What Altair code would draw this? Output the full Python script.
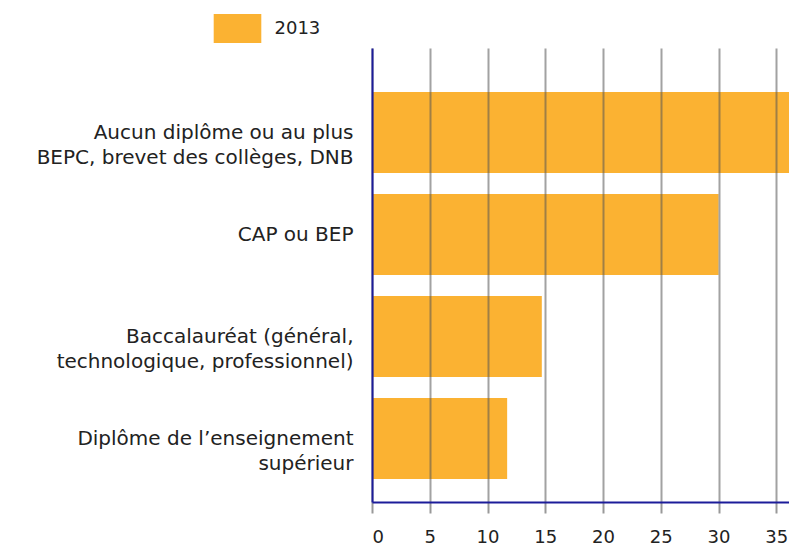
import altair as alt
import pandas as pd

categories = [
    "Aucun diplôme ou au plus|BEPC, brevet des collèges, DNB",
    "CAP ou BEP",
    "Baccalauréat (général,|technologique, professionnel)",
    "Diplôme de l’enseignement|supérieur",
]
values_2013 = [38.0, 30.0, 14.7, 11.7]
series = ["2013"]
x_ticks = [0, 5, 10, 15, 20, 25, 30, 35]

df = pd.DataFrame({
    "cat": categories,
    "val": values_2013,
    "serie": series * len(categories),
})

NAVY = "#1c1c9a"
ORANGE = "#FBB232"

chart = alt.Chart(df).mark_bar(clip=True, color=ORANGE).encode(
    x=alt.X(
        "val:Q",
        scale=alt.Scale(domain=[0, 36.1], nice=False, zero=True),
        axis=alt.Axis(
            values=x_ticks,
            title=None,
            grid=True,
            gridColor="#555555",
            gridOpacity=0.55,
            gridWidth=2,
            domainColor=NAVY,
            domainWidth=2,
            tickColor="#999999",
            tickWidth=2,
            tickSize=11,
            labelPadding=15,
            labelFontSize=18,
            labelFont="DejaVu Sans",
            labelColor="#222222",
            zindex=1,
        ),
    ),
    y=alt.Y(
        "cat:N",
        sort=categories,
        scale=alt.Scale(paddingInner=0.206, paddingOuter=0.3285, align=0.657),
        axis=alt.Axis(
            title=None,
            labelExpr="split(datum.label, '|')",
            labelLineHeight=25,
            labelFontSize=20,
            labelFont="DejaVu Sans",
            labelColor="#222222",
            labelLimit=500,
            labelPadding=19,
            ticks=False,
            grid=False,
            domainColor=NAVY,
            domainWidth=2,
            zindex=1,
        ),
    ),
    color=alt.Color(
        "serie:N",
        scale=alt.Scale(domain=series, range=[ORANGE]),
        legend=alt.Legend(
            title=None,
            orient="none",
            legendX=-158.5,
            legendY=-43.5,
            padding=0,
            symbolType="M-1,-0.61L1,-0.61L1,0.61L-1,0.61Z",
            symbolSize=2266,
            symbolStrokeWidth=0,
            symbolOpacity=1,
            labelFontSize=18,
            labelFont="DejaVu Sans",
            labelColor="#222222",
            labelOffset=13,
        ),
    ),
).properties(
    width=417,
    height=454,
    autosize=alt.AutoSizeParams(type="none"),
    padding={"left": 364, "top": 40, "right": 0, "bottom": 45},
).configure_view(stroke=None)

chart.save("out.html", embed_options={"renderer": "svg", "actions": False})
